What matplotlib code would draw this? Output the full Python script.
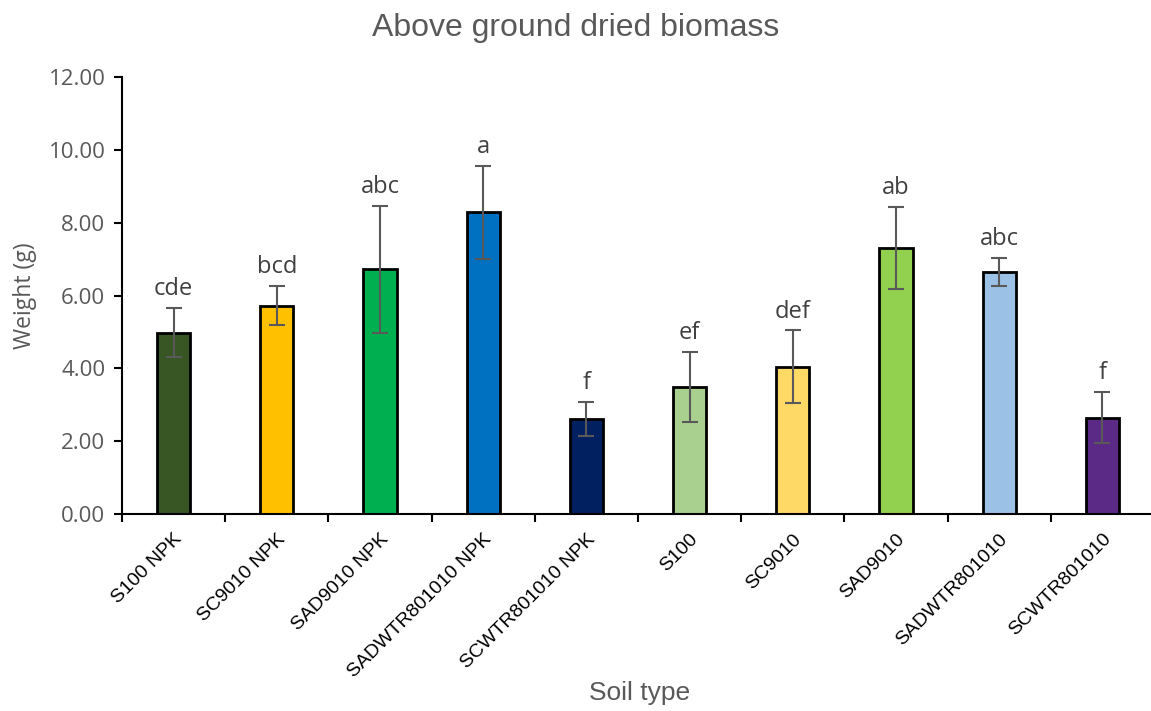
import matplotlib.pyplot as plt
import numpy as np

soil_types = ['S100 NPK', 'SC9010 NPK', 'SAD9010 NPK', 'SADWTR801010 NPK', 'SCWTR801010 NPK',
              'S100', 'SC9010', 'SAD9010', 'SADWTR801010', 'SCWTR801010']
weight_mean = [4.98, 5.72, 6.72, 8.28, 2.60, 3.50, 4.04, 7.31, 6.65, 2.64]
weight_err = [0.68, 0.54, 1.74, 1.27, 0.47, 0.96, 1.00, 1.12, 0.38, 0.70]
sig_letters = ['cde', 'bcd', 'abc', 'a', 'f', 'ef', 'def', 'ab', 'abc', 'f']
bar_colors = ['#375623', '#FFC000', '#00B050', '#0070C0', '#002060',
              '#A9D08E', '#FFD966', '#92D050', '#9BC2E6', '#5B2A86']

fig = plt.figure(figsize=(11.51, 7.11), dpi=100)
ax = fig.add_axes([122 / 1151, 1 - 514 / 711, 1029 / 1151, (514 - 77) / 711])

x = np.arange(len(soil_types))
ax.bar(x, weight_mean, width=0.32, color=bar_colors, edgecolor='black', linewidth=2, zorder=2)
ax.errorbar(x, weight_mean, yerr=weight_err, fmt='none', ecolor='#595959',
            elinewidth=1.5, capsize=6, capthick=1.5, zorder=3)

for xi, m, e, lab in zip(x, weight_mean, weight_err, sig_letters):
    ax.annotate(lab, (xi, m + e), xytext=(0, 5), textcoords='offset points',
                ha='center', va='bottom', fontsize=17, color='#404040', family='Open Sans')

ax.set_xlim(-0.5, 9.5 - 3 / 103.4)
ax.set_ylim(0, 12)
ax.set_yticks(np.arange(0, 12.01, 2))
ax.set_yticklabels([f'{v:.2f}' for v in np.arange(0, 12.01, 2)], family='Open Sans')
ax.tick_params(axis='y', labelsize=16, labelcolor='#595959', length=6, width=1.5,
               direction='out', pad=6)

ax.set_xticks(np.arange(0, 10) - 0.5)
ax.set_xticklabels([])
ax.tick_params(axis='x', which='major', length=6, width=1.5, direction='out')
ax.set_xticks(x, minor=True)
ax.set_xticklabels(soil_types, minor=True, rotation=45, ha='right', va='top',
                   rotation_mode='anchor', fontsize=14, family='Liberation Sans')
ax.tick_params(axis='x', which='minor', length=0, pad=12)

for side in ['top', 'right']:
    ax.spines[side].set_visible(False)
ax.spines['left'].set_linewidth(1.5)
ax.spines['bottom'].set_linewidth(1.5)

fig.text(25 / 1151, 1 - 296 / 711, 'Weight (g)', rotation=90, ha='center', va='center',
         fontsize=16.5, color='#595959', family='Open Sans')
fig.text(640 / 1151, 1 - 693 / 711, 'Soil type', ha='center', va='center',
         fontsize=19, color='#595959', family='Liberation Sans')
fig.text(0.5, 1 - 28 / 711, 'Above ground dried biomass', ha='center', va='center',
         fontsize=23, color='#595959', family='Liberation Sans')

plt.savefig('out.png')
plt.close()
